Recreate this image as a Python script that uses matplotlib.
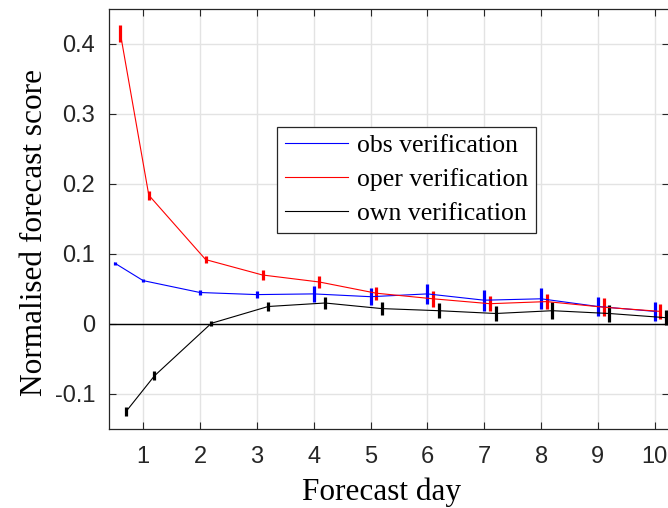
import matplotlib
matplotlib.use("Agg")
import matplotlib.pyplot as plt
import numpy as np

days = [0.5, 1, 2, 3, 4, 5, 6, 7, 8, 9, 10]
obs_vals = [0.087, 0.062, 0.045, 0.042, 0.043, 0.039, 0.043, 0.034, 0.036, 0.025, 0.018]
obs_err = [0.002, 0.0025, 0.0035, 0.0055, 0.011, 0.0125, 0.014, 0.015, 0.015, 0.013, 0.013]
oper_vals = [0.415, 0.184, 0.092, 0.070, 0.060, 0.044, 0.036, 0.029, 0.032, 0.024, 0.018]
oper_err = [0.012, 0.0065, 0.0055, 0.007, 0.008, 0.009, 0.011, 0.011, 0.011, 0.0125, 0.011]
own_vals = [-0.125, -0.074, 0.001, 0.025, 0.030, 0.022, 0.019, 0.015, 0.019, 0.015, 0.009]
own_err = [0.007, 0.0065, 0.004, 0.0065, 0.009, 0.0095, 0.011, 0.011, 0.012, 0.012, 0.011]
offsets = [0.0, 0.1, 0.2]
labels = ["obs verification", "oper verification", "own verification"]
colors = ["#0000ff", "#ff0000", "#000000"]
xticks = [1, 2, 3, 4, 5, 6, 7, 8, 9, 10]
yticks = [-0.1, 0, 0.1, 0.2, 0.3, 0.4]
ytick_labels = ["-0.1", "0", "0.1", "0.2", "0.3", "0.4"]

W, H = 668, 508
fig = plt.figure(figsize=(W / 100, H / 100), dpi=100)
ax = fig.add_axes([109 / W, (H - 429) / H, 560 / W, 420 / H])

series = [(obs_vals, obs_err), (oper_vals, oper_err), (own_vals, own_err)]
handles = []
for (vals, errs), off, col, lab in zip(series, offsets, colors, labels):
    x = np.array(days) + off
    ax.errorbar(x, vals, yerr=errs, color=col, lw=0.8, elinewidth=2.3,
                capsize=0, zorder=3)
    h, = ax.plot([], [], color=col, lw=0.8, label=lab)
    handles.append(h)

ax.axhline(0, color="black", lw=1.0, zorder=2)

ax.set_xlim(0.4, 10.25)
ax.set_ylim(-0.15, 0.45)
ax.set_xticks(xticks)
ax.set_xticklabels([str(t) for t in xticks], family="Liberation Sans", fontsize=17)
ax.set_yticks(yticks)
ax.set_yticklabels(ytick_labels, family="Liberation Sans", fontsize=17)
ax.tick_params(direction="in", length=5, width=0.8, top=True, right=True,
               colors="#262626", labelcolor="#262626")
ax.tick_params(axis="x", pad=12)
ax.tick_params(axis="y", pad=10)
ax.grid(True, color="#e3e3e3", lw=1.0, zorder=0)
ax.set_axisbelow(True)
for s in ax.spines.values():
    s.set_color("#262626")
    s.set_linewidth(0.9)

ax.set_xlabel("Forecast day", family="Liberation Serif", fontsize=22.5, labelpad=8)
ax.set_ylabel("Normalised forecast score", family="Liberation Serif", fontsize=22.5, labelpad=4)
ax.xaxis.set_label_coords(0.4875, -0.116)
ax.yaxis.label.set_y(0.467)

leg = ax.legend(handles=handles, loc="upper left", bbox_to_anchor=(0.3, 0.72),
                borderaxespad=0, frameon=True, fancybox=False,
                prop={"family": "Liberation Serif", "size": 18.5},
                handlelength=2.45, handletextpad=0.35, labelspacing=0.42,
                borderpad=0.3)
leg.get_frame().set_edgecolor("#262626")
leg.get_frame().set_linewidth(0.9)
leg.get_frame().set_alpha(1)

fig.savefig("out.png", dpi=100)
